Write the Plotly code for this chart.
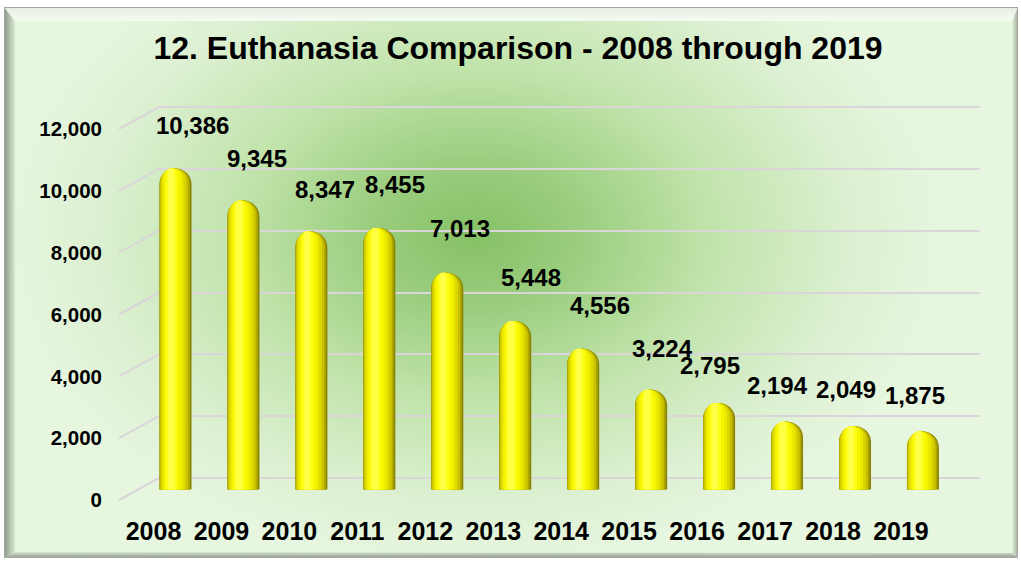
import base64
import plotly.graph_objects as go

# ---- data -------------------------------------------------------------
years = ["2008", "2009", "2010", "2011", "2012", "2013",
         "2014", "2015", "2016", "2017", "2018", "2019"]
euthanized = [10386, 9345, 8347, 8455, 7013, 5448,
              4556, 3224, 2795, 2194, 2049, 1875]
y_tick_values = [0, 2000, 4000, 6000, 8000, 10000, 12000]

TITLE = "12. Euthanasia Comparison - 2008 through 2019"

# ---- page geometry (pixels) ------------------------------------------
W, H = 1021, 561
PLOT_L, PLOT_R, PLOT_T, PLOT_B = 159, 980, 60, 510
PX_PER_UNIT = 371 / 12000          # vertical scale shared by all depth planes
WALL_ZERO = 478                    # back wall baseline
BAR_ZERO = 489.5                   # baseline of the cylinders
FRONT_DROP = 22                    # front plane sits lower ...
FRONT_RUN = 40                     # ... and further left than the back wall
FIRST_CENTER, STEP = 175.5, 67.95  # category spacing
BAR_PX = 32                        # cylinder diameter

FONT = "Liberation Sans, Arial, sans-serif"
GRID = "#d9d5d9"

# data-label nudges (px): labels float above-right / above-left of the caps
LABEL_DX = [17, 14, 14, 16, 13, 16, 17, 11, -9, -10, -9, -8]
LABEL_DY = [43, 42, 42, 44, 44, 44, 43, 41, 38, 36, 37, 36]

pw, ph = PLOT_R - PLOT_L, PLOT_B - PLOT_T


def y_range(zero_px):
    return [(zero_px - PLOT_B) / PX_PER_UNIT, (zero_px - PLOT_T) / PX_PER_UNIT]


fig = go.Figure()

# ---- cylinders: nested overlaid bars build the horizontal shading -----
bw = BAR_PX / STEP
shading = [
    (0.00, 1.00, "#8a8400"),
    (0.00, 0.95, "#aca600"),
    (0.02, 0.90, "#c8c100"),
    (0.05, 0.83, "#dcd600"),
    (0.09, 0.75, "#ebe800"),
    (0.14, 0.66, "#f6f500"),
    (0.20, 0.56, "#fdfd14"),
    (0.26, 0.47, "#ffff45"),
]
for lo, hi, color in shading:
    fig.add_trace(go.Bar(
        x=years, y=euthanized, yaxis="y2",
        width=(hi - lo) * bw, offset=-bw / 2 + lo * bw,
        marker=dict(color=color, cornerradius="50%", line=dict(width=0)),
        hoverinfo="skip", showlegend=False,
    ))

# ---- value labels ---------------------------------------------------------
for i, (v, dx, dy) in enumerate(zip(euthanized, LABEL_DX, LABEL_DY)):
    fig.add_annotation(
        x=i, y=v, xref="x", yref="y2", text=f"<b>{v:,}</b>",
        showarrow=False, xanchor="center", yanchor="middle",
        xshift=dx, yshift=dy,
        font=dict(family=FONT, size=24, color="#000000"),
    )

# ---- floor connectors from the front labels to the back wall ------------
for v in y_tick_values:
    fig.add_shape(
        type="line", layer="below",
        xref="paper", xsizemode="pixel", xanchor=0, x0=-FRONT_RUN, x1=0,
        yref="y", ysizemode="pixel", yanchor=v, y0=-FRONT_DROP, y1=0,
        line=dict(color=GRID, width=2),
    )

# ---- background panel with bevelled frame and green glow ---------------
svg = f"""<svg xmlns='http://www.w3.org/2000/svg' width='{W}' height='{H}' viewBox='0 0 {W} {H}' preserveAspectRatio='none'>
<defs>
<radialGradient id='glow' gradientUnits='userSpaceOnUse' cx='0' cy='0' r='1'
  gradientTransform='translate(475 235) scale(470 330)'>
<stop offset='0' stop-color='#86c166'/>
<stop offset='0.22' stop-color='#9acd7e'/>
<stop offset='0.5' stop-color='#c0e3aa'/>
<stop offset='0.8' stop-color='#dcf0d1'/>
<stop offset='1' stop-color='#e7f6df'/>
</radialGradient>
<linearGradient id='lb' x1='0' y1='0' x2='1' y2='0'>
<stop offset='0' stop-color='#8e958b'/><stop offset='1' stop-color='#d6ead0'/>
</linearGradient>
<linearGradient id='rb' x1='0' y1='0' x2='1' y2='0'>
<stop offset='0' stop-color='#e2f3da'/><stop offset='1' stop-color='#a2aa9e'/>
</linearGradient>
<linearGradient id='tb' x1='0' y1='0' x2='0' y2='1'>
<stop offset='0' stop-color='#e6ede2'/><stop offset='1' stop-color='#f4fbf0'/>
</linearGradient>
<linearGradient id='bb' x1='0' y1='0' x2='0' y2='1'>
<stop offset='0' stop-color='#d4e6cc'/><stop offset='1' stop-color='#8f968c'/>
</linearGradient>
</defs>
<rect x='0' y='0' width='{W}' height='{H}' fill='#ffffff'/>
<rect x='4' y='7' width='1014' height='551' fill='url(#glow)'/>
<polygon points='4,7 15,21 15,552 4,558' fill='url(#lb)'/>
<polygon points='4,7 1018,7 1012,21 15,21' fill='url(#tb)'/>
<polygon points='1018,7 1018,558 1012,553 1012,21' fill='url(#rb)'/>
<polygon points='4,558 1018,558 1012,553 15,552' fill='url(#bb)'/>
<rect x='4.5' y='7.5' width='1013' height='550' fill='none' stroke='#a3a9a0' stroke-width='1'/>
</svg>"""
bg_uri = "data:image/svg+xml;base64," + base64.b64encode(svg.encode()).decode()

fig.add_layout_image(
    source=bg_uri, xref="paper", yref="paper",
    x=-PLOT_L / pw, y=1 + PLOT_T / ph, sizex=W / pw, sizey=H / ph,
    xanchor="left", yanchor="top", sizing="stretch", layer="below",
)

# ---- axes & layout --------------------------------------------------------
fig.update_layout(
    width=W, height=H, autosize=False,
    margin=dict(l=PLOT_L, r=W - PLOT_R, t=PLOT_T, b=H - PLOT_B, pad=0, autoexpand=False),
    paper_bgcolor="#ffffff", plot_bgcolor="rgba(0,0,0,0)",
    barmode="overlay", showlegend=False,
    title=dict(
        text=TITLE, x=518 / W, xref="container", xanchor="center",
        y=1 - 48 / H, yref="container", yanchor="middle",
        font=dict(family=FONT, size=32, color="#000000", weight="bold"),
    ),
    xaxis=dict(
        type="category", categoryorder="array", categoryarray=years,
        range=[(PLOT_L - FIRST_CENTER) / STEP, (PLOT_R - FIRST_CENTER) / STEP],
        showgrid=False, zeroline=False, showline=False, ticks="",
        ticklabelshift=-22, ticklabelstandoff=4,
        tickfont=dict(family=FONT, size=25, color="#000000", weight="bold"),
    ),
    yaxis=dict(
        range=y_range(WALL_ZERO), tickmode="array", tickvals=y_tick_values,
        tickformat=",", showgrid=True, gridcolor=GRID, gridwidth=2,
        zeroline=False, showline=False, ticks="",
        ticklabelshift=FRONT_DROP, ticklabelstandoff=56,
        tickfont=dict(family=FONT, size=20.5, color="#000000", weight="bold"),
    ),
    yaxis2=dict(
        range=y_range(BAR_ZERO), overlaying="y", side="right",
        showgrid=False, zeroline=False, showline=False, ticks="",
        showticklabels=False,
    ),
)

fig.write_html("out.html")
